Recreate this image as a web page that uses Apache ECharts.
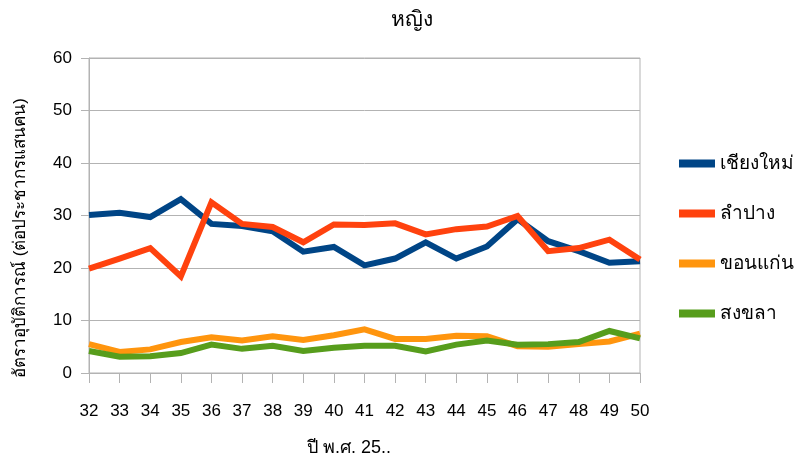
<!DOCTYPE html>
<html>
<head>
<meta charset="utf-8">
<script src="https://cdn.jsdelivr.net/npm/echarts@6/dist/echarts.min.js"></script>
<style>
  html, body { margin: 0; padding: 0; background: #fff; }
  #chart { width: 802px; height: 463px; }
</style>
</head>
<body>
<div id="chart"></div>
<script>
// Years (Buddhist era, 25xx)
const years = ['32','33','34','35','36','37','38','39','40','41','42','43','44','45','46','47','48','49','50'];

// Incidence per 100,000 population, female
const chiangMai = [30.1, 30.5, 29.7, 33.1, 28.4, 28.0, 27.0, 23.1, 24.0, 20.5, 21.8, 24.9, 21.8, 24.1, 29.3, 25.1, 23.2, 21.0, 21.3];
const lampang   = [19.9, 21.8, 23.8, 18.4, 32.5, 28.4, 27.8, 24.9, 28.3, 28.2, 28.5, 26.4, 27.4, 27.9, 29.9, 23.2, 23.8, 25.4, 21.6];
const khonKaen  = [5.5, 4.0, 4.5, 5.9, 6.8, 6.2, 7.0, 6.3, 7.2, 8.3, 6.5, 6.5, 7.1, 7.0, 5.1, 5.0, 5.5, 6.0, 7.5];
const songkhla  = [4.2, 3.1, 3.2, 3.8, 5.4, 4.6, 5.2, 4.2, 4.8, 5.2, 5.2, 4.1, 5.4, 6.2, 5.4, 5.5, 5.9, 8.0, 6.6];

const seriesNames = ['เชียงใหม่', 'ลำปาง', 'ขอนแก่น', 'สงขลา'];
const seriesData = [chiangMai, lampang, khonKaen, songkhla];
const seriesColors = ['#004586', '#ff420e', '#ff950e', '#579d1c'];

const titleText = 'หญิง';
const xName = 'ปี พ.ศ. 25..';
const yName = 'อัตราอุบัติการณ์ (ต่อประชากรแสนคน)';

const font = '"Liberation Sans", "DejaVu Sans", "Noto Sans", sans-serif';

const chart = echarts.init(document.getElementById('chart'));
chart.setOption({
  animation: false,
  textStyle: { fontFamily: font },
  legend: {
    orient: 'vertical',
    left: 674,
    top: 149,
    itemWidth: 36,
    itemHeight: 8,
    itemGap: 31,
    icon: 'rect',
    textStyle: { fontSize: 19, color: '#000', fontFamily: font },
    data: seriesNames
  },
  grid: {
    left: 89, right: 162, top: 58, bottom: 90,
    show: true, borderColor: '#b3b3b3', borderWidth: 1
  },
  xAxis: {
    type: 'category',
    data: years,
    boundaryGap: false,
    axisLine: { lineStyle: { color: '#b3b3b3' } },
    axisTick: { show: true, length: 10, alignWithLabel: true, lineStyle: { color: '#b3b3b3' } },
    axisLabel: { fontSize: 17, color: '#000', margin: 30, fontFamily: font },
    splitLine: { show: false }
  },
  yAxis: {
    type: 'value',
    min: 0, max: 60, interval: 10,
    axisLine: { show: true, lineStyle: { color: '#b3b3b3' } },
    axisTick: { show: true, length: 8, lineStyle: { color: '#b3b3b3' } },
    axisLabel: { fontSize: 17, color: '#000', margin: 17, fontFamily: font },
    splitLine: { lineStyle: { color: '#b3b3b3' } }
  },
  graphic: [
    {
      type: 'text', x: 412, y: 20,
      style: { text: titleText, font: '21px ' + font, fill: '#000', textAlign: 'center', textVerticalAlign: 'middle' }
    },
    {
      type: 'text', x: 349, y: 448,
      style: { text: xName, font: '18px ' + font, fill: '#000', textAlign: 'center', textVerticalAlign: 'middle' }
    },
    {
      type: 'text', x: 20, y: 238, rotation: Math.PI / 2,
      style: { text: yName, font: '17px ' + font, fill: '#000', textAlign: 'center', textVerticalAlign: 'middle' }
    }
  ],
  series: seriesNames.map((name, i) => ({
    name,
    type: 'line',
    data: seriesData[i],
    symbol: 'none',
    color: seriesColors[i],
    lineStyle: { width: 6, color: seriesColors[i], join: 'miter' }
  }))
});
</script>
</body>
</html>
